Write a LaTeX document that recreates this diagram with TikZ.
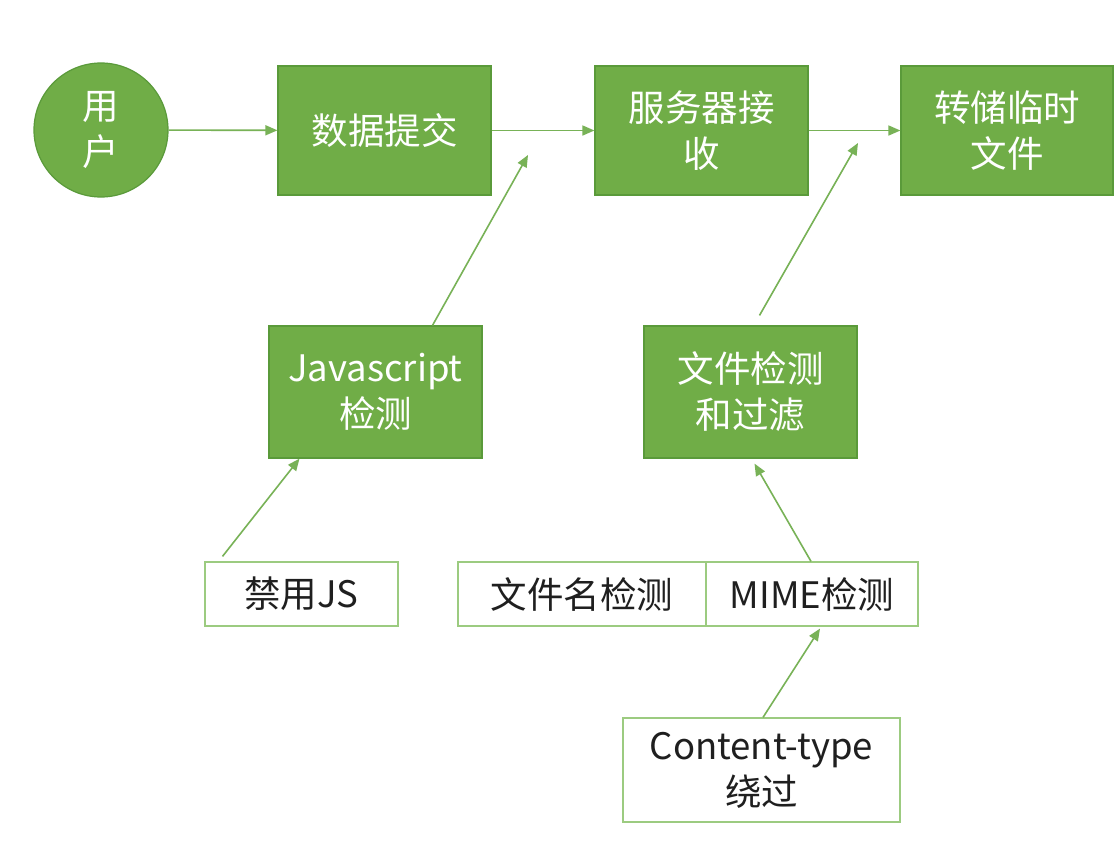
\documentclass[tikz,border=0pt]{standalone}
\usepackage{fontspec}
\newfontfamily\cjk{Noto Sans CJK SC}
\usetikzlibrary{arrows.meta,calc}
\definecolor{gfill}{HTML}{70AD47}
\definecolor{gborder}{HTML}{5A9A3A}
\definecolor{garrow}{HTML}{78B257}
\definecolor{wborder}{HTML}{9CCB80}
\tikzset{
  every node/.style={font=\cjk\fontsize{36.5}{46}\selectfont, align=center, inner sep=0pt},
  gbox/.style={draw=gborder, fill=gfill, line width=1.2pt, text=white},
  wbox/.style={draw=wborder, fill=white, line width=1.2pt, text=black!88},
  arr/.style={draw=garrow, line width=1.6pt, -{Triangle[length=12pt,width=10pt]}},
}
\begin{document}
\begin{tikzpicture}[x=1pt,y=-1pt]
\useasboundingbox[fill=white] (0,0) rectangle (1117,855);
% top row
\node[gbox, circle, minimum size=134pt] (user) at (101,130) {用\\户};
\node[gbox, minimum width=213pt, minimum height=129pt] (submit) at (384.5,130.5) {数据提交};
\node[gbox, minimum width=213pt, minimum height=129pt] (recv) at (701.5,130.5) {服务器接\\收};
\node[gbox, minimum width=212pt, minimum height=129pt] (store) at (1007,130.5) {转储临时\\文件};
% middle row
\node[gbox, minimum width=213pt, minimum height=132pt] (js) at (375.5,392) {Javascript\\检测};
\node[gbox, minimum width=213pt, minimum height=132pt] (filter) at (750.5,392) {文件检测\\和过滤};
% bottom
\node[wbox, minimum width=193pt, minimum height=64pt] (nojs) at (301.5,594) {禁用JS};
\node[wbox, minimum width=248pt, minimum height=64pt] (fname) at (582,594) {文件名检测};
\node[wbox, minimum width=212pt, minimum height=64pt] (mime) at (812,594) {MIME检测};
\node[wbox, minimum width=277pt, minimum height=104pt] (ctype) at (761.5,770) {Content-type\\绕过};
% free ends
\coordinate (p1) at (528,155);
\coordinate (p2) at (858,143);
% connectors
\draw[arr] (user) -- (submit);
\draw[arr] (submit.east) -- (recv.west);
\draw[arr] (recv.east) -- (store.west);
\draw[arr] ([xshift=57pt]js.north) -- (p1);
\draw[arr] ([xshift=9pt,yshift=10pt]filter.north) -- (p2);
\draw[arr] ([xshift=-79pt,yshift=5pt]nojs.north) -- ([xshift=-76pt]js.south);
\draw[arr] ([xshift=-1pt]mime.north) -- ([xshift=4pt,yshift=-5pt]filter.south);
\draw[arr] ([xshift=1.5pt]ctype.north) -- ([xshift=8pt,yshift=-2pt]mime.south);
\end{tikzpicture}
\end{document}
